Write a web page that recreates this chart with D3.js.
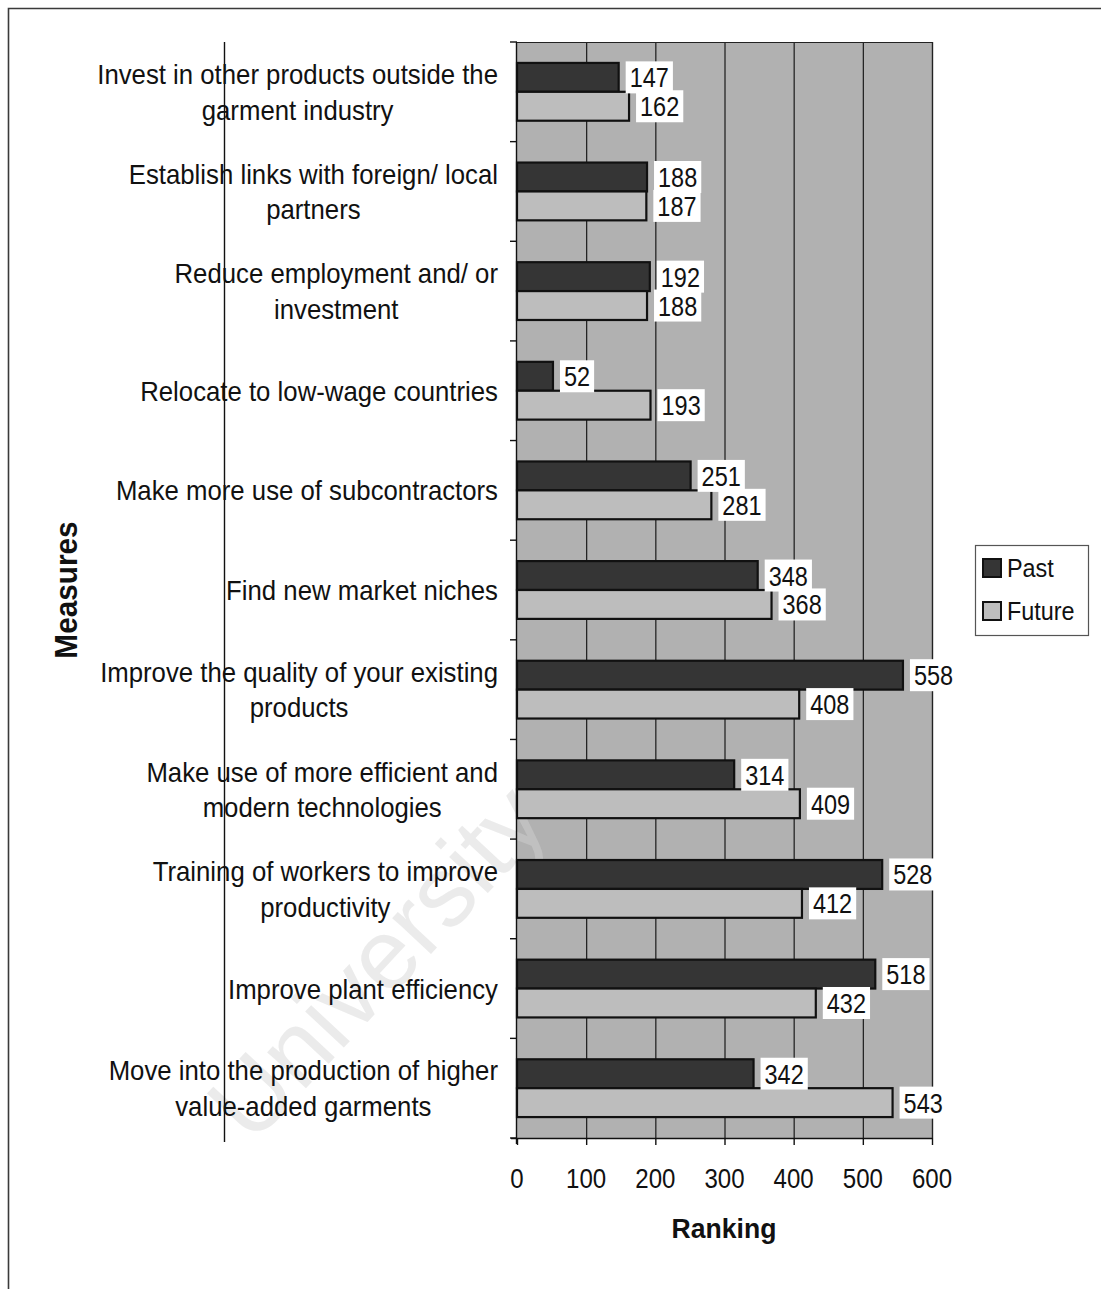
<!DOCTYPE html>
<html>
<head>
<meta charset="utf-8">
<script src="https://cdn.jsdelivr.net/npm/d3@7"></script>
<style>
  html, body { margin: 0; padding: 0; background: #fff; }
  svg { display: block; font-family: "Liberation Sans", Arial, sans-serif; }
</style>
</head>
<body>
<svg id="chart" width="1101" height="1289"></svg>
<script>
// Measures taken by garment firms, ranked for the past and the future
const categories = [
  "Invest in other products outside the\ngarment industry",
  "Establish links with foreign/ local\npartners",
  "Reduce employment and/ or\ninvestment",
  "Relocate to low-wage countries",
  "Make more use of subcontractors",
  "Find new market niches",
  "Improve the quality of your existing\nproducts",
  "Make use of more efficient and\nmodern technologies",
  "Training of workers to improve\nproductivity",
  "Improve plant efficiency",
  "Move into the production of higher\nvalue-added garments"
];
const pastValues   = [147, 188, 192, 52, 251, 348, 558, 314, 528, 518, 342];
const futureValues = [162, 187, 188, 193, 281, 368, 408, 409, 412, 432, 543];
const seriesNames  = ["Past", "Future"];
const xTicks       = [0, 100, 200, 300, 400, 500, 600];

const svg = d3.select("#chart");

// plot frame
const plot = { left: 517, right: 932, top: 42, bottom: 1138 };

const x = d3.scaleLinear().domain([0, 600]).range([plot.left, plot.right]);
const y = d3.scaleBand().domain(d3.range(categories.length))
  .range([plot.top, plot.bottom]).paddingInner(0.42).paddingOuter(0.21);
const ySub = d3.scaleBand().domain(seriesNames).range([0, y.bandwidth()]);
const step = y.step();

const fills = { Past: "#353535", Future: "#bdbdbd" };

// text helper: horizontally condensed glyphs
function label(parent, px, py, str, o) {
  o = o || {};
  const g = parent.append("g")
    .attr("transform", `translate(${px},${py}) rotate(${o.rotate || 0}) scale(${o.sx || 1},1)`);
  const t = g.append("text")
    .attr("text-anchor", o.anchor || "start")
    .attr("font-size", o.size || 28)
    .attr("font-weight", o.weight || "normal")
    .attr("fill", o.fill || "#111")
    .text(str);
  return { g, t };
}

// outer border
svg.append("path")
  .attr("d", "M8.5,1289 L8.5,8.5 L1101,8.5")
  .attr("fill", "none").attr("stroke", "#3a3a3a").attr("stroke-width", 1.6);

// plot background
svg.append("rect")
  .attr("x", plot.left).attr("y", plot.top)
  .attr("width", plot.right - plot.left).attr("height", plot.bottom - plot.top)
  .attr("fill", "#b1b1b1");

// vertical gridlines
svg.append("g").selectAll("line").data(xTicks.slice(1))
  .join("line")
  .attr("x1", d => x(d) + 0.5).attr("x2", d => x(d) + 0.5)
  .attr("y1", plot.top).attr("y2", plot.bottom)
  .attr("stroke", "#1a1a1a").attr("stroke-width", 1.2);

// plot border top/right
svg.append("path")
  .attr("d", `M${plot.left},${plot.top + 0.5} L${plot.right + 0.5},${plot.top + 0.5} L${plot.right + 0.5},${plot.bottom}`)
  .attr("fill", "none").attr("stroke", "#222").attr("stroke-width", 1.2);

// watermark
svg.append("text")
  .attr("transform", "translate(252,1146) rotate(-47)")
  .attr("font-size", 100)
  .attr("fill", "#d2d2d2").attr("fill-opacity", 0.45)
  .text("University");

// stray vertical rule in the label column
svg.append("line")
  .attr("x1", 224.5).attr("x2", 224.5).attr("y1", 42).attr("y2", 1142)
  .attr("stroke", "#111").attr("stroke-width", 1.4);

// bars
const rows = categories.map((c, i) => ({ i, Past: pastValues[i], Future: futureValues[i] }));
const groups = svg.append("g").selectAll("g").data(rows).join("g")
  .attr("transform", d => `translate(0,${y(d.i)})`);

groups.selectAll("rect").data(d => seriesNames.map(s => ({ s, v: d[s] })))
  .join("rect")
  .attr("x", x(0))
  .attr("y", d => ySub(d.s))
  .attr("width", d => x(d.v) - x(0))
  .attr("height", ySub.bandwidth())
  .attr("fill", d => fills[d.s])
  .attr("stroke", "#111").attr("stroke-width", 2.2);

// value labels
const labelLayer = svg.append("g");
rows.forEach(r => {
  seriesNames.forEach(s => {
    const v = r[s];
    const cy = y(r.i) + ySub(s) + ySub.bandwidth() / 2;
    const bx = x(v) + 7;
    const str = String(v);
    const w = str.length * 28 * 0.556 * 0.84 + 8;
    labelLayer.append("rect")
      .attr("x", bx).attr("y", cy - 16)
      .attr("width", w).attr("height", 32)
      .attr("fill", "#fff");
    label(labelLayer, bx + 4, cy + 10, str, { sx: 0.84 });
  });
});

// y axis line and ticks
const axisY = svg.append("g");
axisY.append("line")
  .attr("x1", plot.left - 0.5).attr("x2", plot.left - 0.5)
  .attr("y1", plot.top).attr("y2", plot.bottom + 6)
  .attr("stroke", "#111").attr("stroke-width", 1.4);
axisY.selectAll("line.tick").data(d3.range(categories.length + 1))
  .join("line").attr("class", "tick")
  .attr("x1", plot.left - 7).attr("x2", plot.left)
  .attr("y1", i => plot.top + i * step).attr("y2", i => plot.top + i * step)
  .attr("stroke", "#111").attr("stroke-width", 1.4);

// x axis line and ticks
const axisX = svg.append("g").attr("transform", `translate(0,${plot.bottom})`)
  .call(d3.axisBottom(x).tickValues(xTicks).tickSize(7).tickFormat(""));
axisX.select(".domain").attr("stroke", "#111").attr("stroke-width", 1.4)
  .attr("d", `M${plot.left - 6},0.5H${plot.right}`);
axisX.selectAll(".tick line").attr("stroke", "#111").attr("stroke-width", 1.4);

xTicks.forEach(t => label(svg, x(t), 1188, String(t), { anchor: "middle", sx: 0.86 }));

// category labels: lines centred in a block right-aligned to the axis
const catLayer = svg.append("g");
const sxCat = 0.92;
categories.forEach((c, i) => {
  const lines = c.split("\n");
  const cy = y(i) + y.bandwidth() / 2;
  const made = lines.map((ln, k) => {
    const off = (k - (lines.length - 1) / 2) * 35.5;
    return label(catLayer, 498, cy + off + 10, ln, { anchor: "end", sx: sxCat });
  });
  const widths = made.map(m => m.t.node().getComputedTextLength() * sxCat);
  const maxW = d3.max(widths);
  made.forEach((m, k) => {
    const shift = (maxW - widths[k]) / 2;
    const off = (k - (lines.length - 1) / 2) * 35.5;
    m.g.attr("transform", `translate(${498 - shift},${cy + off + 10}) scale(${sxCat},1)`);
  });
});

// axis titles
label(svg, 77, 590, "Measures", { anchor: "middle", rotate: -90, sx: 0.93, size: 32, weight: "bold" });
label(svg, 724, 1238, "Ranking", { anchor: "middle", sx: 0.95, size: 28, weight: "bold" });

// legend
const lg = svg.append("g");
lg.append("rect").attr("x", 975.5).attr("y", 545.5).attr("width", 113).attr("height", 90)
  .attr("fill", "#fff").attr("stroke", "#555").attr("stroke-width", 1.2);
seriesNames.forEach((s, k) => {
  const cy = 568 + k * 43;
  lg.append("rect").attr("x", 983).attr("y", cy - 9).attr("width", 18).attr("height", 18)
    .attr("fill", fills[s]).attr("stroke", "#111").attr("stroke-width", 2);
  label(lg, 1007, cy + 9, s, { sx: 0.9, size: 26 });
});
</script>
</body>
</html>
